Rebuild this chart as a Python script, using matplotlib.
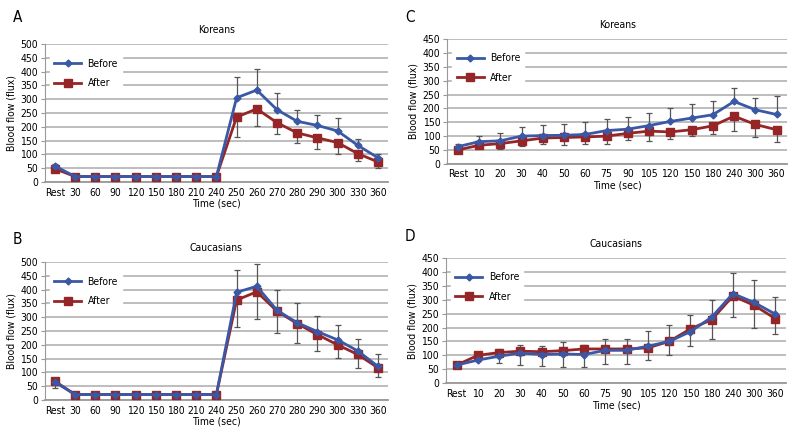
import numpy as np
import matplotlib
matplotlib.use('Agg')
import matplotlib.pyplot as plt
from matplotlib import font_manager

# pick a narrow face if one is installed
names = {f.name for f in font_manager.fontManager.ttflist}
cond = [f for f in font_manager.fontManager.ttflist
        if f.name == 'DejaVu Sans' and 'condensed' in str(f.stretch).lower()]
if 'Liberation Sans Narrow' in names:
    plt.rcParams['font.family'] = ['Liberation Sans Narrow', 'DejaVu Sans']
elif cond:
    plt.rcParams['font.family'] = ['DejaVu Sans']
    plt.rcParams['font.stretch'] = 'condensed'
else:
    plt.rcParams['font.family'] = ['Liberation Sans', 'DejaVu Sans']

# categories
cats_ab = ['Rest', '30', '60', '90', '120', '150', '180', '210', '240',
           '250', '260', '270', '280', '290', '300', '330', '360']
cats_cd = ['Rest', '10', '20', '30', '40', '50', '60', '75', '90',
           '105', '120', '150', '180', '240', '300', '360']

# A: Koreans (cold)
a_before = [58, 20, 20, 20, 20, 20, 20, 20, 20, 305, 333, 262, 220, 205, 185, 133, 88]
a_before_err = [8, 0, 0, 0, 0, 0, 0, 0, 0, 75, 77, 61, 42, 38, 47, 22, 12]
a_after = [48, 20, 20, 20, 20, 20, 20, 20, 20, 235, 265, 215, 178, 160, 143, 103, 73]
a_after_err = [6, 0, 0, 0, 0, 0, 0, 0, 0, 73, 62, 40, 38, 42, 40, 28, 21]

# B: Caucasians (cold)
b_before = [65, 20, 20, 20, 20, 20, 20, 20, 20, 390, 412, 325, 280, 248, 218, 178, 122]
b_before_err = [6, 0, 0, 0, 0, 0, 0, 0, 0, 82, 80, 72, 72, 57, 52, 42, 43]
b_after = [68, 20, 20, 20, 20, 20, 20, 20, 20, 362, 392, 322, 277, 237, 200, 165, 117]
b_after_err = [23, 0, 0, 0, 0, 0, 0, 0, 0, 97, 100, 79, 72, 60, 48, 50, 34]

# C: Koreans (heat)
c_before = [62, 80, 83, 100, 102, 103, 106, 120, 125, 138, 153, 165, 177, 225, 195, 178]
c_before_err = [10, 20, 29, 33, 38, 40, 46, 43, 45, 47, 47, 52, 51, 48, 43, 67]
c_after = [50, 67, 73, 83, 93, 95, 97, 100, 110, 118, 115, 123, 137, 172, 142, 123]
c_after_err = [8, 9, 21, 18, 23, 27, 25, 30, 25, 36, 25, 21, 29, 52, 47, 46]

# D: Caucasians (heat)
d_before = [65, 83, 97, 108, 103, 105, 103, 118, 118, 133, 150, 185, 237, 322, 290, 248]
d_before_err = [5, 8, 25, 29, 30, 42, 35, 42, 42, 55, 58, 60, 63, 73, 82, 60]
d_after = [65, 100, 110, 115, 113, 117, 123, 123, 123, 127, 150, 195, 228, 313, 280, 232]
d_after_err = [5, 22, 37, 48, 50, 59, 65, 55, 55, 42, 50, 63, 68, 75, 80, 57]

blue = '#3a58a6'
red = '#962528'
gridc = '#b8b8b8'
fs = 7.5


def panel(ax, cats, before, berr, after, aerr, ymax, title):
    x = np.arange(len(cats))
    ax.errorbar(x, before, yerr=[np.zeros(len(berr)), berr], fmt='none',
                ecolor='#555555', elinewidth=0.9, capsize=2, capthick=0.9, zorder=2)
    ax.errorbar(x, after, yerr=[aerr, np.zeros(len(aerr))], fmt='none',
                ecolor='#555555', elinewidth=0.9, capsize=2, capthick=0.9, zorder=2)
    ax.plot(x, before, color=blue, lw=2, marker='D', ms=3.5, label='Before', zorder=4)
    ax.plot(x, after, color=red, lw=2, marker='s', ms=6, label='After', zorder=3)
    ax.set_xlim(-0.5, len(cats) - 0.5)
    ax.set_ylim(0, ymax)
    ax.set_yticks(np.arange(0, ymax + 1, 50))
    ax.set_xticks(x)
    ax.set_xticklabels(cats)
    ax.yaxis.grid(True, color=gridc, lw=1.3)
    ax.set_axisbelow(True)
    for s in ['top', 'right']:
        ax.spines[s].set_visible(False)
    ax.spines['left'].set_color('#999999')
    ax.spines['bottom'].set_color('#999999')
    ax.spines['bottom'].set_linewidth(1.3)
    ax.tick_params(axis='y', length=3, color='#999999', labelsize=fs, pad=2)
    ax.tick_params(axis='x', length=0, labelsize=fs, pad=4)
    ax.set_title(title, fontsize=fs, pad=8)
    ax.set_xlabel('Time (sec)', fontsize=fs, labelpad=1)
    ax.set_ylabel('Blood flow (flux)', fontsize=fs, labelpad=3)
    leg = ax.legend(loc='upper left', bbox_to_anchor=(0.0, 0.96), fontsize=fs,
                    frameon=True, fancybox=False, handlelength=2.6,
                    labelspacing=0.9, borderpad=0.4, handletextpad=0.6)
    leg.get_frame().set_facecolor('white')
    leg.get_frame().set_edgecolor('white')
    leg.get_frame().set_alpha(1)


fig = plt.figure(figsize=(8, 4.44), dpi=100)
axA = fig.add_axes([0.056, 0.590, 0.429, 0.311])
axC = fig.add_axes([0.559, 0.631, 0.425, 0.281])
axB = fig.add_axes([0.056, 0.099, 0.429, 0.311])
axD = fig.add_axes([0.5575, 0.137, 0.425, 0.282])

panel(axA, cats_ab, a_before, a_before_err, a_after, a_after_err, 500, 'Koreans')
panel(axB, cats_ab, b_before, b_before_err, b_after, b_after_err, 500, 'Caucasians')
panel(axC, cats_cd, c_before, c_before_err, c_after, c_after_err, 450, 'Koreans')
panel(axD, cats_cd, d_before, d_before_err, d_after, d_after_err, 450, 'Caucasians')

fig.text(13 / 800, 1 - 17 / 444, 'A', fontsize=11, va='center', ha='left')
fig.text(405 / 800, 1 - 17 / 444, 'C', fontsize=11, va='center', ha='left')
fig.text(13 / 800, 1 - 239 / 444, 'B', fontsize=11, va='center', ha='left')
fig.text(405 / 800, 1 - 236 / 444, 'D', fontsize=11, va='center', ha='left')

fig.savefig('out.png', dpi=100, facecolor='white')
